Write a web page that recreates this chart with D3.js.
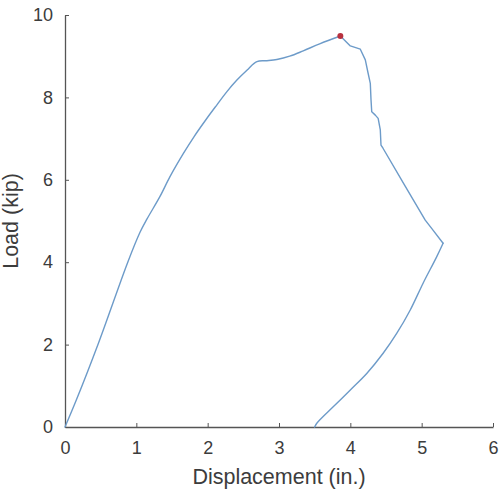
<!DOCTYPE html>
<html>
<head>
<meta charset="utf-8">
<script src="https://cdn.jsdelivr.net/npm/d3@7/dist/d3.min.js"></script>
<style>
  html, body { margin: 0; padding: 0; background: #fff; }
  svg { display: block; }
</style>
</head>
<body>
<svg id="chart" width="504" height="489"></svg>
<script>
// Data (load–displacement curve)
const displacement = [0, 0.16, 0.47, 0.88, 1.05, 1.15, 1.33, 1.47, 1.66, 1.81, 1.98, 2.13, 2.27, 2.41, 2.55, 2.69, 2.83, 2.97, 3.15, 3.34, 3.57, 3.86,
  4.00, 4.14, 4.21, 4.25, 4.28, 4.29, 4.30, 4.35, 4.39, 4.42, 4.43, 4.46, 4.75, 5.05, 5.14, 5.30,
  5.21, 5.02, 4.84, 4.65, 4.46, 4.23, 4.00, 3.76, 3.53, 3.50];
const load = [0, 0.66, 2.04, 4.00, 4.72, 5.05, 5.59, 6.07, 6.64, 7.05, 7.47, 7.82, 8.14, 8.42, 8.66, 8.87, 8.89, 8.92, 9.00, 9.13, 9.30, 9.49,
  9.25, 9.17, 8.91, 8.58, 8.34, 7.94, 7.65, 7.57, 7.49, 7.21, 6.84, 6.76, 5.90, 5.02, 4.82, 4.46,
  4.13, 3.49, 2.84, 2.27, 1.79, 1.30, 0.90, 0.49, 0.09, 0.0];
const peakX = [3.86];
const peakY = [9.49];
const xTicks = [0, 1, 2, 3, 4, 5, 6];
const yTicks = [0, 2, 4, 6, 8, 10];
const xLabel = "Displacement (in.)";
const yLabel = "Load (kip)";

(function () {
const svg = d3.select("#chart");
const mLeft = 65, mRight = 493, mTop = 15, mBottom = 427;
const x = d3.scaleLinear().domain([0, 6]).range([mLeft, mRight]);
const y = d3.scaleLinear().domain([0, 10]).range([mBottom, mTop]);

const axisColor = "#555555";
const textColor = "#3c3c3c";
const font = "Liberation Sans, Arial, sans-serif";

const gx = svg.append("g").attr("transform", `translate(0,${mBottom})`)
  .call(d3.axisBottom(x).tickValues(xTicks).tickFormat(d3.format("d")).tickSizeInner(-4).tickSizeOuter(0).tickPadding(14));
const gy = svg.append("g").attr("transform", `translate(${mLeft},0)`)
  .call(d3.axisLeft(y).tickValues(yTicks).tickFormat(d3.format("d")).tickSizeInner(-4).tickSizeOuter(0).tickPadding(12));
[gx, gy].forEach(g => {
  g.select(".domain").attr("stroke", axisColor).attr("stroke-width", 1.3);
  g.selectAll(".tick line").attr("stroke", axisColor).attr("stroke-width", 1);
  g.selectAll(".tick text").attr("fill", textColor).style("font-family", font).style("font-size", "18px");
});

svg.append("text").attr("x", (mLeft + mRight) / 2).attr("y", 484)
  .attr("text-anchor", "middle").attr("fill", textColor)
  .style("font-family", font).style("font-size", "21.5px").text(xLabel);
svg.append("text").attr("transform", `translate(18,${(mTop + mBottom) / 2}) rotate(-90)`)
  .attr("text-anchor", "middle").attr("fill", textColor)
  .style("font-family", font).style("font-size", "21.5px").text(yLabel);

const pts = displacement.map((d, i) => [d, load[i]]);
const iPeak = displacement.indexOf(peakX[0]);
const iApex = d3.maxIndex(displacement);
const smooth = d3.line().x(d => x(d[0])).y(d => y(d[1])).curve(d3.curveCatmullRom.alpha(0.5));
const straight = d3.line().x(d => x(d[0])).y(d => y(d[1]));
const segs = [
  { data: pts.slice(0, iPeak + 1), gen: smooth },
  { data: pts.slice(iPeak, iApex + 1), gen: straight },
  { data: pts.slice(iApex), gen: smooth }
];
svg.selectAll("path.curve").data(segs).join("path").attr("class", "curve")
  .attr("d", s => s.gen(s.data))
  .attr("fill", "none").attr("stroke", "#6d9bc9").attr("stroke-width", 1.4)
  .attr("stroke-linejoin", "round").attr("stroke-linecap", "round");

svg.selectAll("circle.peak").data(peakX).join("circle").attr("class", "peak")
  .attr("cx", d => x(d)).attr("cy", (d, i) => y(peakY[i])).attr("r", 3)
  .attr("fill", "#b8313f");
})();
</script>
</body>
</html>
